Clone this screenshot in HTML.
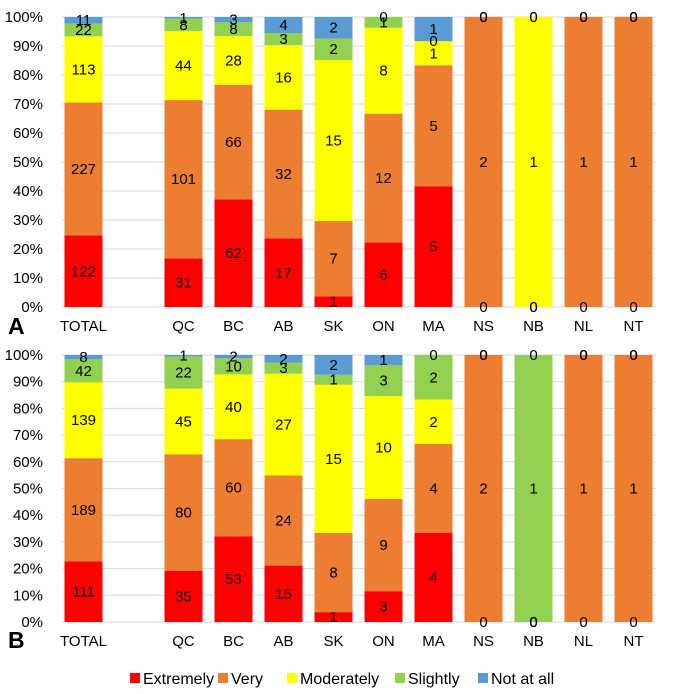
<!DOCTYPE html>
<html><head><meta charset="utf-8"><style>
html,body{margin:0;padding:0;background:#fff;}
svg{display:block;font-family:"Liberation Sans",sans-serif;}
</style></head><body>
<svg id="c" width="675" height="694" viewBox="0 0 675 694"></svg>
<script>
const categories = ["TOTAL","","QC","BC","AB","SK","ON","MA","NS","NB","NL","NT"];
const seriesNames = ["Extremely","Very","Moderately","Slightly","Not at all"];
const colors = ["#ff0000","#ed7d31","#ffff00","#92d050","#5b9bd5"];
const tickLabels = ["0%","10%","20%","30%","40%","50%","60%","70%","80%","90%","100%"];
// Panel A values per category: [Extremely, Very, Moderately, Slightly, Not at all]
const panelA = [[122,227,113,22,11],null,[31,101,44,8,1],[62,66,28,8,3],[17,32,16,3,4],[1,7,15,2,2],[6,12,8,1,0],[5,5,1,0,1],[0,2,0,0,0],[0,0,1,0,0],[0,1,0,0,0],[0,1,0,0,0]];
const panelB = [[111,189,139,42,8],null,[35,80,45,22,1],[53,60,40,10,2],[15,24,27,3,2],[1,8,15,1,2],[3,9,10,3,1],[4,4,2,2,0],[0,2,0,0,0],[0,0,0,1,0],[0,1,0,0,0],[0,1,0,0,0]];

const NS="http://www.w3.org/2000/svg";
const svg=document.getElementById('c');
function mk(t,a,p){const e=document.createElementNS(NS,t);for(const k in a)e.setAttribute(k,a[k]);(p||svg).appendChild(e);return e;}
const xLeft=62,xRight=656,step=50,x0=83.5,bw=38;
function xScale(i){return x0+step*i;}

function panel(data,top,bottom,letter,name,letterY){
  const g=mk('g',{});
  
  
  const y=v=>bottom-(bottom-top)*v/100;
  tickLabels.forEach((t,k)=>{
    const gl=mk('line',{x1:xLeft,x2:xRight,y1:y(k*10),y2:y(k*10),stroke:'#d9d9d9','stroke-width':1},g);
    
    
    const tl=mk('text',{x:43,y:y(k*10)+5,'text-anchor':'end','font-size':15,fill:'#000'},g);
    tl.textContent=t;
    
    
  });
  categories.forEach((c,i)=>{
    const cx=xScale(i);
    if(c){
      const cl=mk('text',{x:cx,y:bottom+24,'text-anchor':'middle','font-size':15,fill:'#000'},g);
      cl.textContent=c;
      
      
    }
    const vals=data[i]; if(!vals) return;
    const tot=vals.reduce((a,b)=>a+b,0);
    let cum=0;
    vals.forEach((v,s)=>{
      const p0=cum/tot*100, p1=(cum+v)/tot*100; cum+=v;
      if(v>0){
        const r=mk('rect',{x:cx-bw/2,y:y(p1),width:bw,height:y(p0)-y(p1),fill:colors[s]},g);
        
        
      }
    });
    cum=0;
    vals.forEach((v,s)=>{
      const p0=cum/tot*100, p1=(cum+v)/tot*100; cum+=v;
      const lt=mk('text',{x:cx,y:(y(p0)+y(p1))/2+5,'text-anchor':'middle','font-size':15,fill:'#000'},g);
      lt.textContent=v;
      
      
    });
  });
  const L=mk('text',{x:8,y:letterY,'font-size':23,'font-weight':'bold',fill:'#000'},g);
  L.textContent=letter;
  
  
}
panel(panelA,17,307,'A','panel-a',334);
panel(panelB,355,622,'B','panel-b',648);

const lg=mk('g',{});


const legX=[130,218,287,395,478];
seriesNames.forEach((n,s)=>{
  const sq=mk('rect',{x:legX[s],y:673,width:10,height:10,fill:colors[s]},lg);
  
  
  const t=mk('text',{x:legX[s]+13,y:684,'font-size':16,fill:'#000'},lg);
  t.textContent=n;
  
  
});
</script>
</body></html>
